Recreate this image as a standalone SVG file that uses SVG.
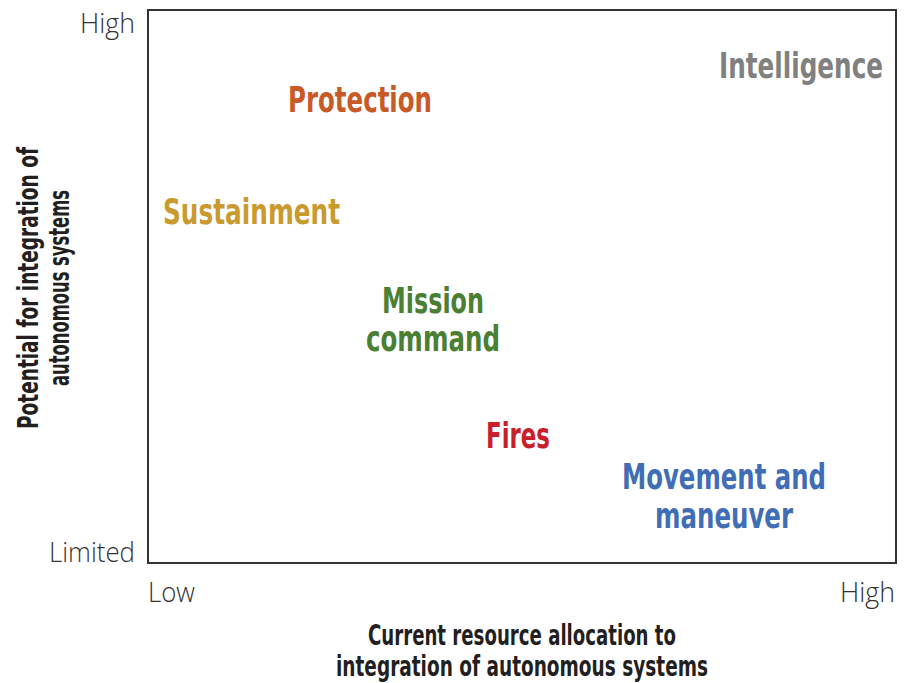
<svg xmlns="http://www.w3.org/2000/svg" width="907" height="683" viewBox="0 0 907 683">
<style>
.lab{font-family:"Liberation Sans Narrow","DejaVu Sans Condensed","Liberation Sans",sans-serif;font-weight:bold;font-size:36px;text-anchor:middle}
.axt{font-family:"Liberation Sans Narrow","DejaVu Sans Condensed","Liberation Sans",sans-serif;font-weight:bold;font-size:29px;fill:#231f20;text-anchor:middle}
.tick{font-family:"Open Sans","Noto Sans","Liberation Sans",sans-serif;font-weight:300;font-size:27px;fill:#333}
</style>
<rect width="907" height="683" fill="#fff"/>
<g id="frame"><rect x="148" y="10" width="748" height="553" fill="none" stroke="#333" stroke-width="2"/></g>
<g id="ticks">
<text class="tick" x="135" y="33" text-anchor="end" textLength="55" lengthAdjust="spacingAndGlyphs">High</text>
<text class="tick" x="135" y="562" text-anchor="end" textLength="86" lengthAdjust="spacingAndGlyphs">Limited</text>
<text class="tick" x="148" y="602" textLength="47" lengthAdjust="spacingAndGlyphs">Low</text>
<text class="tick" x="895" y="602" text-anchor="end" textLength="55" lengthAdjust="spacingAndGlyphs">High</text>
</g>
<g id="xtitle">
<text class="axt" x="522" y="645" textLength="308" lengthAdjust="spacingAndGlyphs">Current resource allocation to</text>
<text class="axt" x="522" y="676" textLength="372" lengthAdjust="spacingAndGlyphs">integration of autonomous systems</text>
</g>
<g id="ytitle" transform="translate(38,288) rotate(-90)">
<text class="axt" x="0" y="0" textLength="282" lengthAdjust="spacingAndGlyphs">Potential for integration of</text>
<text class="axt" x="0" y="31" textLength="196" lengthAdjust="spacingAndGlyphs">autonomous systems</text>
</g>
<g id="intelligence"><text class="lab" x="801" y="78" fill="#808080" textLength="164" lengthAdjust="spacingAndGlyphs">Intelligence</text></g>
<g id="protection"><text class="lab" x="360" y="112" fill="#c85a28" textLength="144" lengthAdjust="spacingAndGlyphs">Protection</text></g>
<g id="sustainment"><text class="lab" x="251.5" y="224" fill="#c99a2e" textLength="177" lengthAdjust="spacingAndGlyphs">Sustainment</text></g>
<g id="mission">
<text class="lab" x="433" y="313" fill="#4b7f34" textLength="102" lengthAdjust="spacingAndGlyphs">Mission</text>
<text class="lab" x="433" y="351" fill="#4b7f34" textLength="134" lengthAdjust="spacingAndGlyphs">command</text>
</g>
<g id="fires"><text class="lab" x="518" y="448" fill="#c8202b" textLength="64" lengthAdjust="spacingAndGlyphs">Fires</text></g>
<g id="movement">
<text class="lab" x="724" y="489" fill="#3f6db6" textLength="204" lengthAdjust="spacingAndGlyphs">Movement and</text>
<text class="lab" x="724" y="528" fill="#3f6db6" textLength="138" lengthAdjust="spacingAndGlyphs">maneuver</text>
</g>
<g id="connectors"></g>
</svg>
